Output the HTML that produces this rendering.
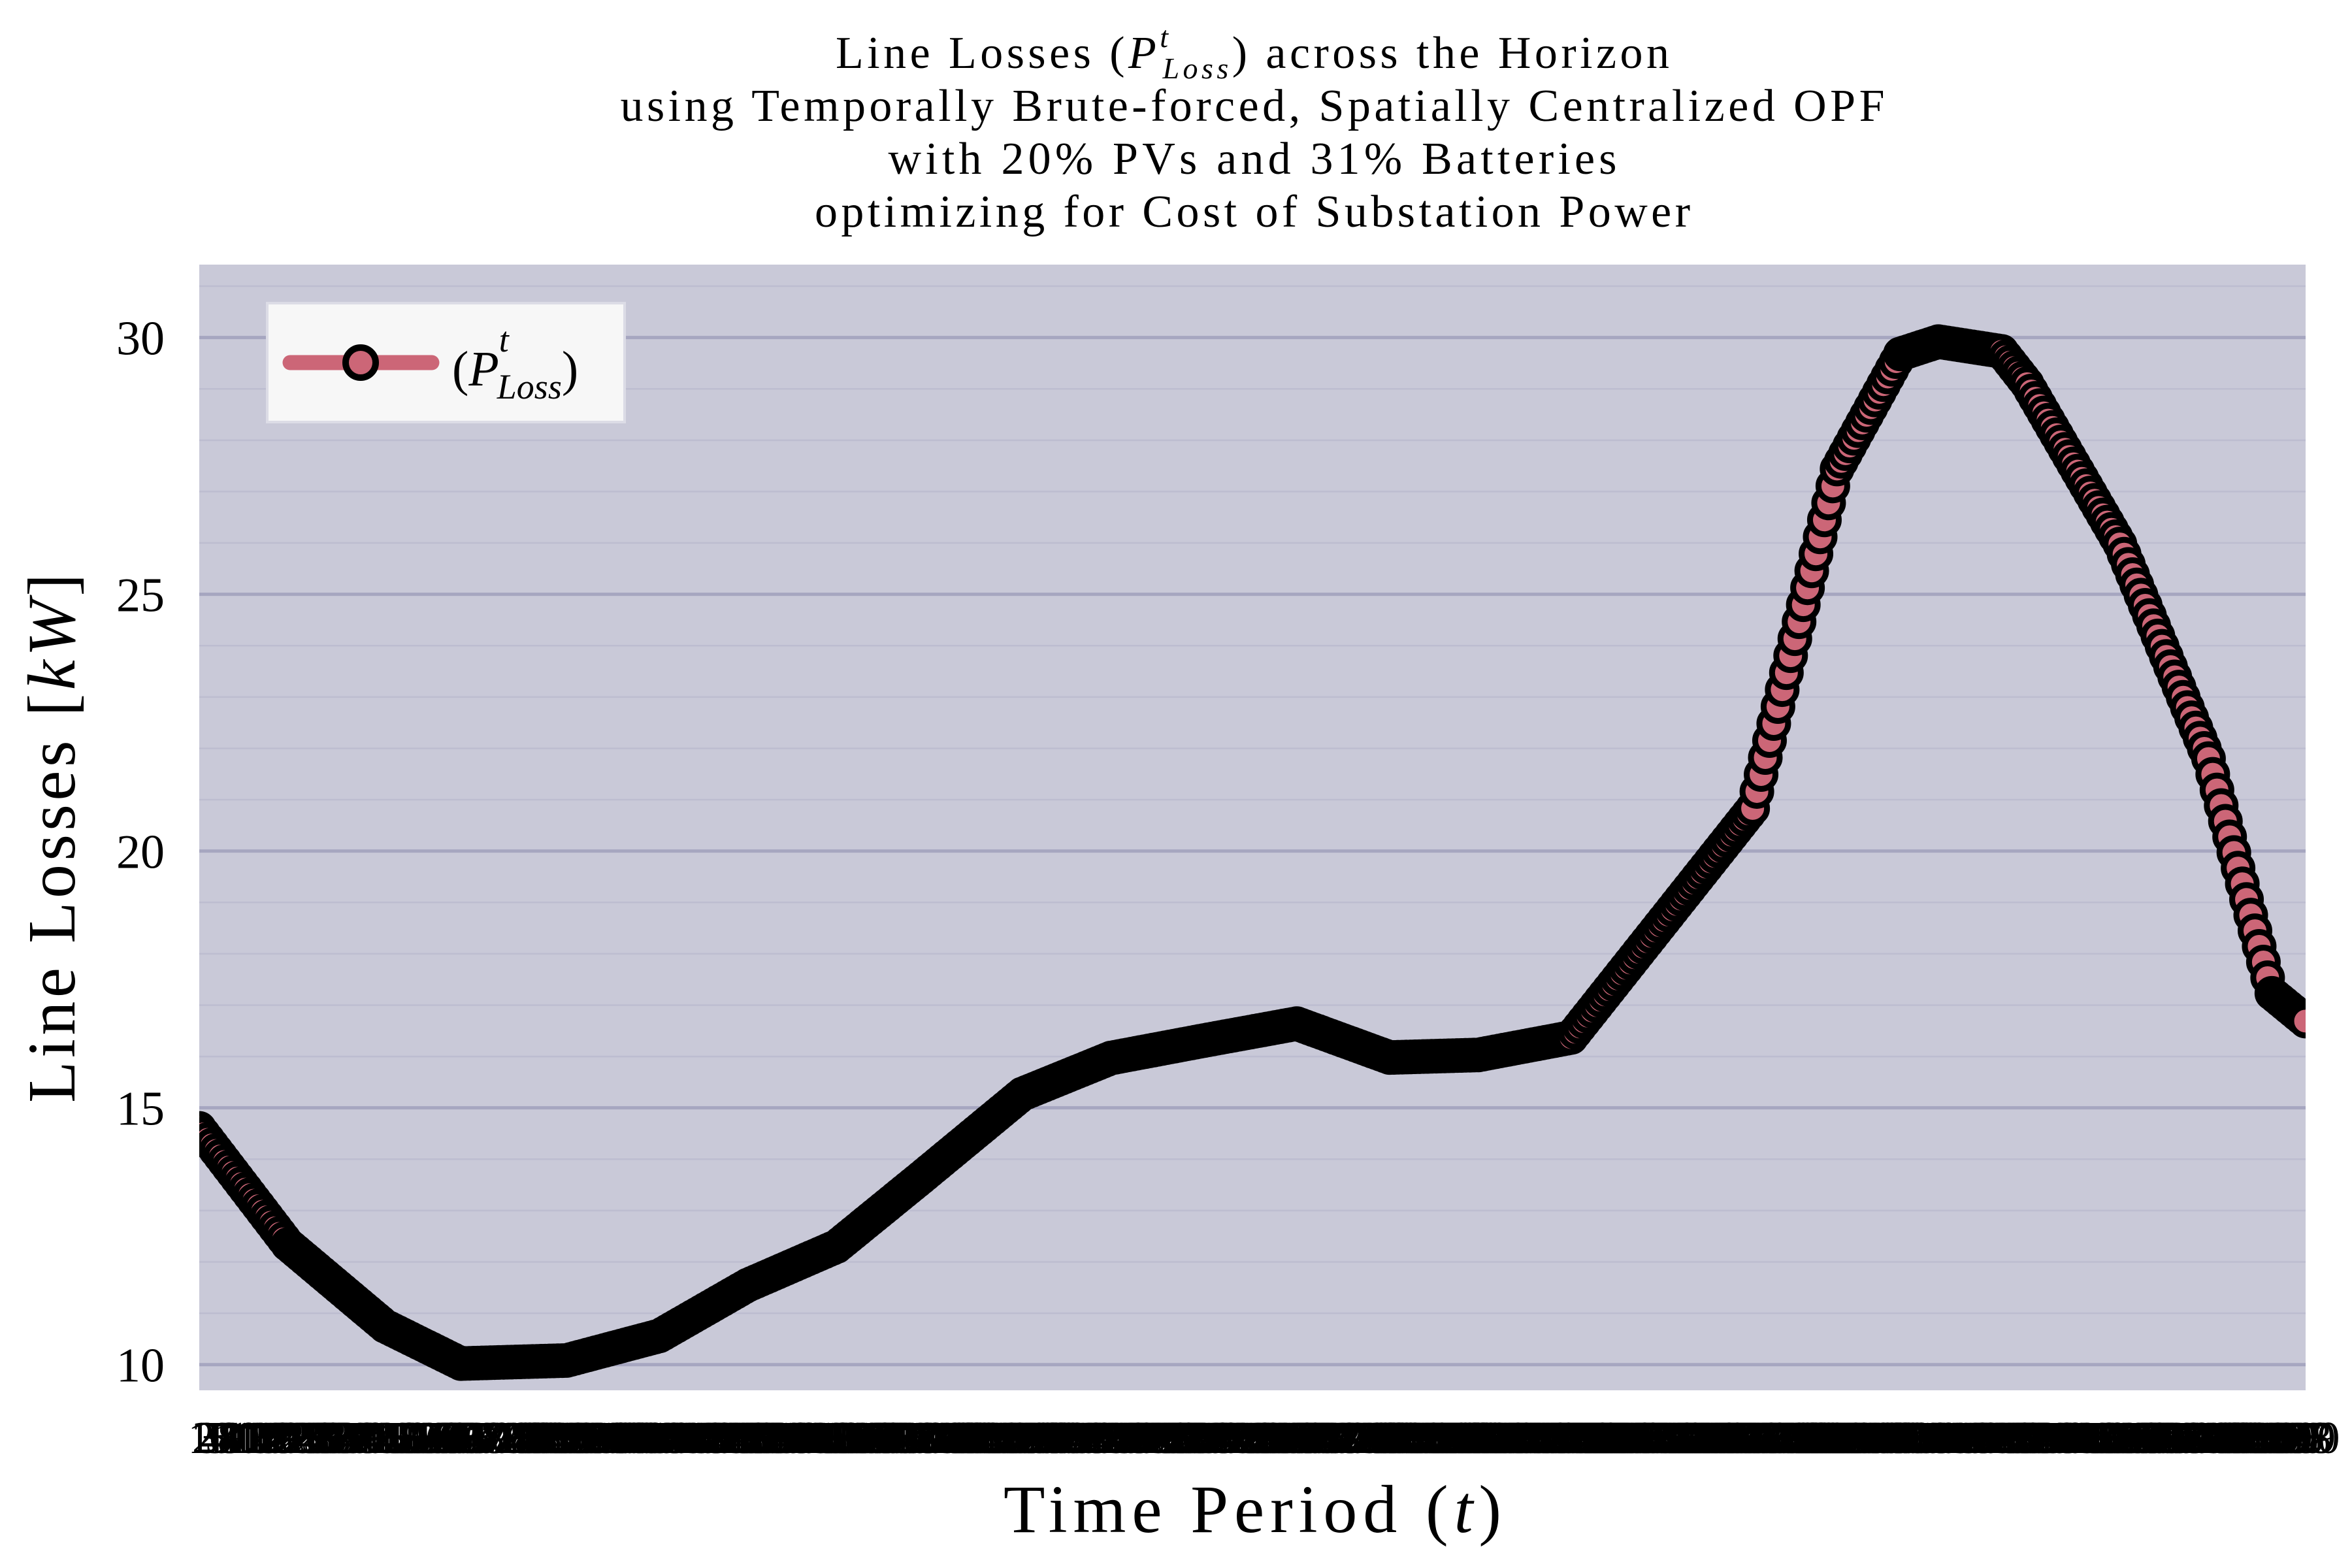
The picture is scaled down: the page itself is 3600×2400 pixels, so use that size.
<!DOCTYPE html>
<html><head><meta charset="utf-8">
<style>
html,body{margin:0;padding:0;background:#fff;}
svg{display:block;font-family:"Liberation Serif",serif;}
</style></head>
<body>
<svg id="chart" width="3600" height="2400" viewBox="0 0 3600 2400" xmlns="http://www.w3.org/2000/svg">
  <g font-size="70" text-anchor="middle" fill="#000">
    <text x="1917" y="104" textLength="1276" lengthAdjust="spacing">Line Losses (<tspan font-style="italic">P</tspan><tspan font-style="italic" font-size="46" dy="-32">t</tspan><tspan font-style="italic" font-size="46" dx="-14" dy="48">Loss</tspan><tspan dy="-16">) across the Horizon</tspan></text>
    <text x="1917" y="185" textLength="1935" lengthAdjust="spacing">using Temporally Brute-forced, Spatially Centralized OPF</text>
    <text x="1917" y="266" textLength="1115" lengthAdjust="spacing">with 20% PVs and 31% Batteries</text>
    <text x="1917" y="347" textLength="1340" lengthAdjust="spacing">optimizing for Cost of Substation Power</text>
  </g>
  <rect x="305" y="405" width="3224" height="1723" fill="#c9c9d8"/>
  <g id="grid"></g>
  <g id="yticks" font-size="74" text-anchor="end"></g>
  <g id="xticks" font-size="70" text-anchor="middle"></g>
  <g id="series"></g>
  <text x="1917" y="2345" font-size="104" text-anchor="middle" textLength="762" lengthAdjust="spacing">Time Period (<tspan font-style="italic">t</tspan>)</text>
  <text transform="translate(114,1283) rotate(-90)" font-size="104" text-anchor="middle" textLength="810" lengthAdjust="spacing">Line Losses [<tspan font-style="italic">kW</tspan>]</text>
  <g>
    <rect x="409" y="464" width="547" height="182" fill="#f7f7f7" stroke="#dcdce6" stroke-width="4"/>
    <line x1="444" y1="555" x2="661" y2="555" stroke="#cc6677" stroke-width="23" stroke-linecap="round"/>
    <circle cx="552" cy="555" r="23" fill="#cc6677" stroke="#000" stroke-width="10"/>
    <text x="692" y="590" font-size="76">(<tspan font-style="italic">P</tspan><tspan font-style="italic" font-size="54" dy="-52">t</tspan><tspan font-style="italic" font-size="54" dx="-18" dy="72">Loss</tspan><tspan dy="-20">)</tspan></text>
  </g>
</svg>
<script>
// ---- data ----
const N = 500;
const knotPeriods = [1, 22, 45, 63, 88, 110, 131, 152, 172, 196, 217, 239, 261, 283, 304, 326, 369, 389, 404, 413, 428, 434, 456, 477, 492, 500];
const knotLosses = [14.6, 12.34, 10.75, 10.02, 10.08, 10.56, 11.55, 12.3, 13.64, 15.27, 15.97, 16.31, 16.64, 15.98, 16.03, 16.37, 20.83, 27.44, 29.68, 29.92, 29.73, 29.1, 25.98, 21.8, 17.23, 16.69];
const yTickValues = [10, 15, 20, 25, 30];
const yTickLabels = ["10", "15", "20", "25", "30"];

// ---- axes ----
const X0 = 305, X1 = 3529, Y_TOP = 405, Y_BOT = 2128;
const yMin = 9.5, yMax = 31.42;
const xScale = t => X0 + (t - 1) / (N - 1) * (X1 - X0);
const yScale = v => Y_BOT - (v - yMin) / (yMax - yMin) * (Y_BOT - Y_TOP);
const NS = "http://www.w3.org/2000/svg";
function mk(tag, attrs, parent) {
  const e = document.createElementNS(NS, tag);
  for (const k in attrs) e.setAttribute(k, attrs[k]);
  parent.appendChild(e);
  return e;
}
const grid = document.getElementById('grid');
for (let v = Math.ceil(yMin); v <= yMax; v++) {
  const major = v % 5 === 0;
  const l = mk('line', {x1: X0, x2: X1, y1: yScale(v), y2: yScale(v), stroke: major ? '#a6a6c0' : '#bdbdd0', 'stroke-width': major ? 5 : 2.5}, grid);
  
  
}
const yt = document.getElementById('yticks');
yTickValues.forEach((v, i) => {
  const t = mk('text', {x: 252, y: yScale(v) + 26}, yt);
  t.textContent = yTickLabels[i];
  
  
});
const xt = document.getElementById('xticks');
for (let t = 1; t <= N; t++) {
  const e = mk('text', {x: xScale(t), y: 2224}, xt);
  e.textContent = String(t);
  
  
}
// ---- series ----
function valueAt(t) {
  for (let i = 0; i < knotPeriods.length - 1; i++) {
    const a = knotPeriods[i], b = knotPeriods[i + 1];
    if (t >= a && t <= b) return knotLosses[i] + (knotLosses[i + 1] - knotLosses[i]) * (t - a) / (b - a);
  }
  return knotLosses[knotLosses.length - 1];
}
const series = document.getElementById('series');
const clip = mk('clipPath', {id: 'plotclip'}, series);
mk('rect', {x: X0, y: Y_TOP, width: X1 - X0, height: Y_BOT - Y_TOP}, clip);
series.setAttribute('clip-path', 'url(#plotclip)');
const pts = knotPeriods.map((t, i) => xScale(t) + ',' + yScale(knotLosses[i])).join(' ');
const line = mk('polyline', {points: pts, fill: 'none', stroke: '#cc6677', 'stroke-width': 23, 'stroke-linejoin': 'round', 'stroke-linecap': 'round'}, series);


for (let t = 1; t <= N; t++) {
  const c = mk('circle', {cx: xScale(t), cy: yScale(valueAt(t)), r: 22, fill: '#cc6677', stroke: '#000', 'stroke-width': 9}, series);
  
  
}
</script>
</body></html>
